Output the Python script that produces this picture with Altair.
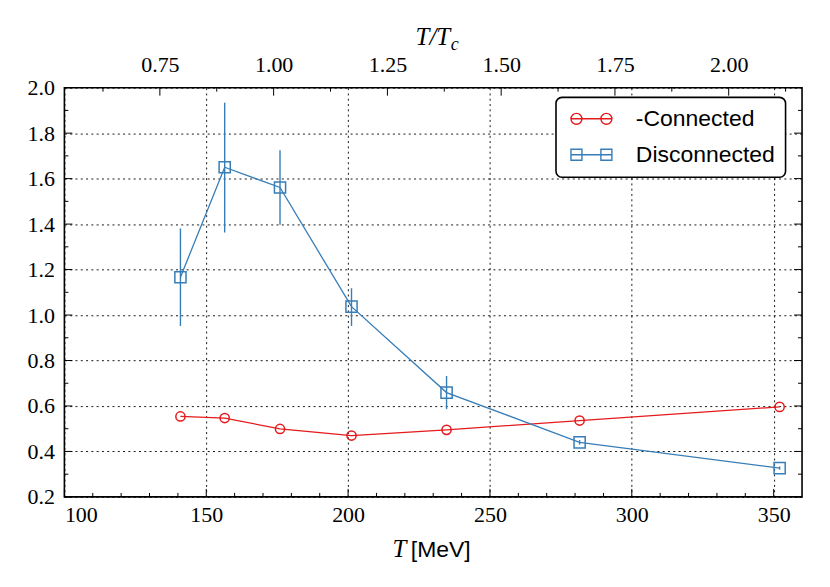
import altair as alt
import pandas as pd

# ---- data ----
T = [140.9, 156.5, 176.0, 201.2, 234.7, 281.6, 352.1]
connected = [0.554, 0.547, 0.499, 0.470, 0.495, 0.536, 0.596]
disconnected = [1.166, 1.650, 1.561, 1.037, 0.659, 0.440, 0.327]
disc_lo = [0.952, 1.363, 1.397, 0.952, 0.586, 0.430, 0.320]
disc_hi = [1.381, 1.934, 1.725, 1.118, 0.732, 0.450, 0.334]

series_names = ["-Connected", "Disconnected"]
series_colors = ["#e41a1c", "#377eb8"]

x_major = [100, 150, 200, 250, 300, 350]
x_minor = [v for v in range(110, 360, 10) if v % 50 != 0]
y_major = [0.2, 0.4, 0.6, 0.8, 1.0, 1.2, 1.4, 1.6, 1.8, 2.0]
y_minor = [0.3, 0.5, 0.7, 0.9, 1.1, 1.3, 1.5, 1.7, 1.9]
top_major = [0.75, 1.00, 1.25, 1.50, 1.75, 2.00]
top_minor = [0.625, 0.875, 1.125, 1.375, 1.625, 1.875, 2.125]
# top axis (T/Tc): T = T_OFF + T_SCALE * (T/Tc)
T_OFF, T_SCALE = 13.35, 160.4

W, H = 739, 410

df_c = pd.DataFrame({"T": T, "value": connected, "series": series_names[0]})
df_d = pd.DataFrame({"T": T, "value": disconnected, "series": series_names[1],
                     "lo": disc_lo, "hi": disc_hi})
df = pd.concat([df_c, df_d[["T", "value", "series"]]], ignore_index=True)

xscale = alt.Scale(domain=[100, 360], nice=False, zero=False)
yscale = alt.Scale(domain=[0.2, 2.0], nice=False, zero=False)
cscale = alt.Scale(domain=series_names, range=series_colors)

xaxis = alt.Axis(values=x_major, format="d", grid=True, ticks=False, domain=False,
                 labelPadding=8, title=None, orient="bottom")
yaxis = alt.Axis(values=y_major, format=".1f", grid=True, ticks=False, domain=False,
                 labelPadding=10, title=None, orient="left")
yaxis_right = alt.Axis(values=y_major, grid=False, ticks=False, domain=False,
                       labels=False, title=None, orient="right")
top_pos_major = [T_OFF + T_SCALE * v for v in top_major]
top_pos_minor = [T_OFF + T_SCALE * v for v in top_minor]
top_axis = alt.Axis(values=top_pos_major, grid=False, ticks=False, domain=False,
                    labelPadding=11, title=None, orient="top",
                    labelExpr=f"format((datum.value - {T_OFF}) / {T_SCALE}, '.2f')")

lines = alt.Chart(df).mark_line(strokeWidth=1.3).encode(
    x=alt.X("T:Q", scale=xscale, axis=xaxis),
    y=alt.Y("value:Q", scale=yscale, axis=yaxis),
    color=alt.Color("series:N", scale=cscale, legend=None),
    order="T:Q",
)

errbars = alt.Chart(df_d).mark_rule(strokeWidth=1.4, color=series_colors[1]).encode(
    x=alt.X("T:Q", axis=None),
    y=alt.Y("lo:Q", axis=None),
    y2="hi:Q",
)

pts_c = alt.Chart(df_c).mark_point(shape="circle", filled=False, size=85, strokeWidth=1.5,
                                   color=series_colors[0], opacity=1).encode(
    x=alt.X("T:Q", axis=None), y=alt.Y("value:Q", axis=None))
pts_d = alt.Chart(df_d).mark_point(shape="square", filled=False, size=125, strokeWidth=1.5,
                                   color=series_colors[1], opacity=1).encode(
    x=alt.X("T:Q", axis=None), y=alt.Y("value:Q", axis=None))

# legend symbols: line with two markers
circ_path = ("M-2.647,0L2.647,0"
             "M-1.226,0A0.71,0.71,0,1,1,-2.647,0A0.71,0.71,0,1,1,-1.226,0"
             "M2.647,0A0.71,0.71,0,1,1,1.226,0A0.71,0.71,0,1,1,2.647,0")
sq_path = ("M-2.647,0L2.647,0"
           "M-2.647,-0.71L-1.226,-0.71L-1.226,0.71L-2.647,0.71Z"
           "M1.226,-0.71L2.647,-0.71L2.647,0.71L1.226,0.71Z")

leg = alt.Legend(title=None, orient="none", legendX=492.5, legendY=9.7,
                 symbolSize=240, symbolStrokeWidth=1.4, symbolOpacity=1,
                 symbolOffset=14, labelOffset=33,
                 labelFont="Liberation Sans", labelFontSize=23, labelColor="black",
                 padding=10, rowPadding=12, fillColor="white", strokeColor="black",
                 cornerRadius=6)

legend_layer = alt.Chart(df).mark_point(filled=False, strokeWidth=1.3, size=240, opacity=0).encode(
    x=alt.X("T:Q", axis=None),
    y=alt.Y("value:Q", axis=None),
    shape=alt.Shape("series:N", scale=alt.Scale(domain=series_names, range=[circ_path, sq_path]),
                    legend=leg),
    stroke=alt.Stroke("series:N", scale=alt.Scale(domain=series_names, range=series_colors),
                      legend=leg),
)

def ticks_x(vals, length, top=False, axis=None):
    y0 = 0 if top else H
    y1 = length if top else H - length
    return alt.Chart(pd.DataFrame({"v": vals})).mark_rule(color="black", strokeWidth=1).encode(
        x=alt.X("v:Q", axis=axis), y=alt.value(y0), y2=alt.value(y1))

def ticks_y(vals, length, right=False, axis=None):
    x0 = W if right else 0
    x1 = W - length if right else length
    return alt.Chart(pd.DataFrame({"v": vals})).mark_rule(color="black", strokeWidth=1).encode(
        y=alt.Y("v:Q", axis=axis), x=alt.value(x0), x2=alt.value(x1))

def text_layer(s, x, y, font, size, align, style="normal"):
    return alt.Chart(pd.DataFrame({"t": [s]})).mark_text(
        font=font, fontSize=size, align=align, baseline="alphabetic", fontStyle=style,
        color="black").encode(text="t:N", x=alt.value(x), y=alt.value(y))

chart = alt.layer(
    lines, errbars, pts_c, pts_d, legend_layer,
    ticks_x(x_major, 8), ticks_x(x_minor, 4),
    ticks_x(top_pos_major, 8, top=True, axis=top_axis), ticks_x(top_pos_minor, 4, top=True),
    ticks_y(y_major, 8), ticks_y(y_minor, 4),
    ticks_y(y_major, 8, True, axis=yaxis_right), ticks_y(y_minor, 4, True),
    text_layer("T", 342.5, 469.7, "Liberation Serif", 25, "right", "italic"),
    text_layer("[MeV]", 347.0, 469.7, "Liberation Sans", 23, "left"),
    text_layer("T/T", 386.5, -42.3, "Liberation Serif", 25, "right", "italic"),
    text_layer("c", 387, -37.5, "Liberation Serif", 18, "left", "italic"),
).resolve_legend(
    shape="independent", stroke="independent"
).properties(
    width=W, height=H,
    autosize=alt.AutoSizeParams(type="none"),
    padding={"left": 56.5, "top": 79.3, "right": 20, "bottom": 80},
    background="white",
).configure_view(
    stroke="black", strokeWidth=1.6
).configure_axis(
    labelFont="Liberation Serif", labelFontSize=22, labelColor="black",
    gridColor="black", gridDash=[2, 3.3], gridWidth=0.9, gridOpacity=1,
).configure_legend(
    strokeWidth=1.6
)

chart.save("out.html", embed_options={"renderer": "svg", "actions": False})
